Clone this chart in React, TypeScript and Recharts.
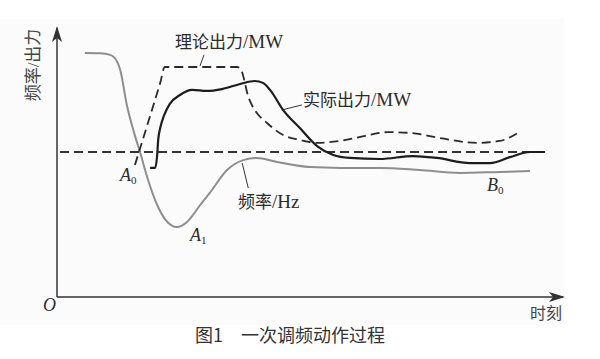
import { ComposedChart, Line, XAxis, YAxis, ReferenceLine } from "recharts";

// time axis 0..100, value axis 0..100 (arbitrary units)
const freqTime = [5.5, 8.5, 10.5, 11.9, 12.5, 13.8, 15.2, 16.4, 18.0, 19.8, 21.5, 23.7, 25.7, 28.3, 30.2, 33.6, 36.8, 39.5, 43.5, 50.0, 55.9, 63.8, 71.7, 79.6, 87.5, 93.5];
const freqValue = [90.7, 90.6, 90.0, 87.4, 84.4, 71.4, 61.3, 53.9, 43.5, 34.2, 28.6, 26.0, 27.9, 34.2, 38.7, 47.2, 50.9, 51.7, 50.2, 48.3, 48.0, 48.0, 47.2, 46.1, 46.5, 46.8];

const theoTime = [15.4, 18.4, 20.4, 21.3, 28.3, 35.6, 36.4, 37.0, 37.6, 38.5, 39.5, 41.5, 44.7, 48.0, 51.4, 55.9, 60.9, 65.4, 69.8, 75.7, 83.0, 87.5, 91.1];
const theoValue = [49.1, 67.3, 79.6, 85.5, 85.5, 85.5, 84.4, 80.7, 75.8, 71.4, 68.4, 64.7, 60.2, 58.4, 57.3, 58.0, 59.9, 61.3, 61.0, 59.1, 57.3, 58.0, 61.0];

const actTime = [18.4, 19.4, 19.8, 20.0, 20.4, 21.2, 22.3, 24.3, 26.7, 29.6, 32.6, 36.2, 39.1, 40.7, 42.1, 44.7, 48.0, 51.4, 54.6, 57.9, 63.8, 70.4, 75.1, 81.6, 85.6, 89.5, 93.5, 96.4];
const actValue = [48.0, 48.0, 52.8, 58.4, 62.8, 67.7, 71.8, 75.1, 77.0, 76.6, 77.3, 79.2, 80.3, 79.6, 77.0, 69.5, 62.8, 56.1, 52.8, 51.7, 51.3, 52.4, 51.7, 49.8, 49.8, 52.0, 53.9, 53.9];

const ratedLevel = 53.9;

const freqData = freqTime.map((t, i) => ({ t, v: freqValue[i] }));
const theoData = theoTime.map((t, i) => ({ t, v: theoValue[i] }));
const actData = actTime.map((t, i) => ({ t, v: actValue[i] }));

const W = 600;
const H = 359;
const serif = "'Liberation Serif', 'DejaVu Serif', 'Noto Sans CJK SC', serif";
const cjk = "'Noto Sans CJK SC', sans-serif";
const ink = "#2b2b2b";

function Sub({ x, y, main, sub }: { x: number; y: number; main: string; sub: string }) {
  return (
    <text x={x} y={y} fontFamily={serif} fontSize={18} fill={ink}>
      <tspan fontStyle="italic">{main}</tspan>
      <tspan fontSize={11} dy={3}>{sub}</tspan>
    </text>
  );
}

// Chinese label followed by a Latin unit set a bit larger, like the printed figure
function Tag({ x, y, zh, unit }: { x: number; y: number; zh: string; unit: string }) {
  return (
    <text x={x} y={y} fontFamily={serif} fontSize={17} fill={ink}>
      {zh}
      <tspan fontSize={19}>{unit}</tspan>
    </text>
  );
}

export default function App() {
  return (
    <div style={{ position: "absolute", left: 0, top: 0, width: W, height: H, background: "#fff" }}>
      <div style={{ position: "absolute", left: 0, top: 19, width: 564, height: 306, background: "#fbfbfb" }} />
      <div style={{ position: "absolute", left: 0, top: 0 }}>
        <ComposedChart width={W} height={H} margin={{ top: 28, right: 37, left: 57, bottom: 62 }}>
          <XAxis type="number" dataKey="t" domain={[0, 100]} hide allowDataOverflow />
          <YAxis type="number" dataKey="v" domain={[0, 100]} hide allowDataOverflow />

          {/* axes */}
          <ReferenceLine x={0} stroke="#333" strokeWidth={1.5} />
          <ReferenceLine y={0} stroke="#333" strokeWidth={1.5} />

          {/* rated frequency / base line */}
          <ReferenceLine
            segment={[{ x: 0.6, y: ratedLevel }, { x: 97, y: ratedLevel }]}
            stroke="#333"
            strokeWidth={1.8}
            strokeDasharray="9 5"
          />

          {/* leader lines */}
          <ReferenceLine segment={[{ x: 29.05, y: 90.0 }, { x: 28.26, y: 85.9 }]} stroke="#333" strokeWidth={1} />
          <ReferenceLine segment={[{ x: 44.4, y: 69.5 }, { x: 48.4, y: 71.4 }]} stroke="#333" strokeWidth={1} />
          <ReferenceLine segment={[{ x: 36.6, y: 49.8 }, { x: 37.8, y: 40.5 }]} stroke="#333" strokeWidth={1} />

          <Line data={freqData} dataKey="v" type="monotone" stroke="#8e8e8e" strokeWidth={2} dot={false} isAnimationActive={false} />
          <Line data={theoData} dataKey="v" type="monotone" stroke="#2a2a2a" strokeWidth={1.8} strokeDasharray="9 5" dot={false} isAnimationActive={false} />
          <Line data={actData} dataKey="v" type="monotone" stroke="#1c1c1c" strokeWidth={2.2} dot={false} isAnimationActive={false} />
        </ComposedChart>
      </div>

      <svg width={W} height={H} style={{ position: "absolute", left: 0, top: 0, pointerEvents: "none" }}>
        {/* arrowheads */}
        <polygon points="57,26 52,42 57,38 62,42" fill="#333" />
        <polygon points="565,297 549,292 553,297 549,302" fill="#333" />

        <text x={33} y={65} transform="rotate(-90 33 65)" textAnchor="middle" dominantBaseline="central" fontFamily={serif} fontSize={17} fill="#444">
          频率/出力
        </text>

        <Tag x={175} y={48} zh="理论出力" unit="/MW" />
        <Tag x={303} y={106} zh="实际出力" unit="/MW" />
        <Tag x={238} y={208} zh="频率" unit="/Hz" />

        <Sub x={120} y={181} main="A" sub="0" />
        <Sub x={190} y={241} main="A" sub="1" />
        <Sub x={487} y={191} main="B" sub="0" />

        <text x={43} y={311} fontFamily={serif} fontStyle="italic" fontSize={18} fill={ink}>O</text>
        <text x={530} y={319} fontFamily={cjk} fontSize={16} fill="#444">时刻</text>

        <text x={290} y={342} textAnchor="middle" fontFamily={cjk} fontSize={18} fill="#333">
          图1{"\u3000"}一次调频动作过程
        </text>
      </svg>
    </div>
  );
}
